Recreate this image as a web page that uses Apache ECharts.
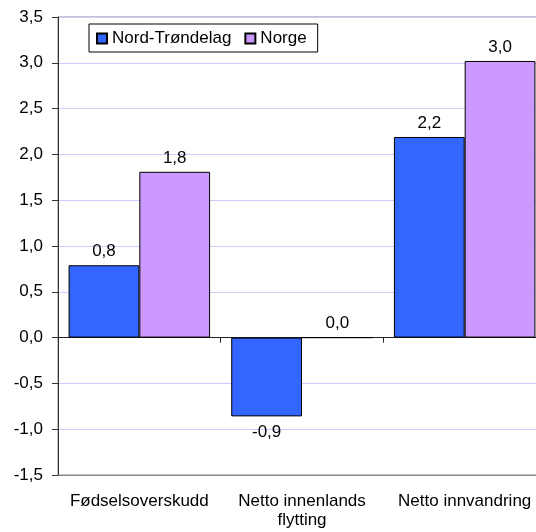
<!DOCTYPE html>
<html>
<head>
<meta charset="utf-8">
<script src="https://cdn.jsdelivr.net/npm/echarts@6/dist/echarts.min.js"></script>
<style>html,body{margin:0;padding:0;background:#fff;overflow:hidden}#c{width:556px;height:532px}</style>
</head>
<body>
<div id="c"></div>
<script>
const categories = ['Fødselsoverskudd', 'Netto innenlands\nflytting', 'Netto innvandring'];
const seriesNames = ['Nord-Trøndelag', 'Norge'];
const nordTrondelag = [0.79, -0.86, 2.19];
const norge = [1.81, 0.0, 3.02];
const yTicks = { min: -1.5, max: 3.5, interval: 0.5 };

const fmt = v => (Math.abs(v) < 0.05 ? 0 : v).toFixed(1).replace('.', ',');
const FONT = 'Liberation Sans, Arial, sans-serif';
const FS = 17;

function mkData(arr) {
  return arr.map(v => ({
    value: v,
    label: { position: v < 0 ? 'bottom' : 'top', distance: v < 0 ? 7 : 5 }
  }));
}

const chart = echarts.init(document.getElementById('c'), null, { renderer: 'canvas' });
chart.setOption({
  animation: false,
  textStyle: { fontFamily: FONT },
  grid: { left: 58, top: 17, width: 488, height: 458, outerBoundsMode: 'none', show: true, borderColor: '#888', borderWidth: 1, backgroundColor: 'transparent' },
  legend: {
    left: 89, top: 24,
    data: seriesNames,
    backgroundColor: '#fff',
    borderColor: '#000', borderWidth: 1,
    padding: [6, 11, 5, 7],
    itemWidth: 10, itemHeight: 10, itemGap: 13,
    icon: 'rect',
    textStyle: { fontFamily: FONT, fontSize: FS, color: '#000' }
  },
  xAxis: [
    {
      type: 'category', data: categories, position: 'bottom',
      axisLine: { onZero: false, lineStyle: { color: '#888', width: 1 } },
      axisTick: { show: false },
      axisLabel: { fontFamily: FONT, fontSize: FS, color: '#000', margin: 17, lineHeight: 19, interval: 0 },
      splitLine: { show: false }
    },
    {
      type: 'category', data: categories, position: 'bottom',
      axisLine: { onZero: true, lineStyle: { color: '#222', width: 1 } },
      axisTick: { show: true, length: 5, inside: false, lineStyle: { color: '#222' } },
      axisLabel: { show: false },
      splitLine: { show: false }
    }
  ],
  yAxis: {
    type: 'value', min: yTicks.min, max: yTicks.max, interval: yTicks.interval,
    axisLine: { show: true, lineStyle: { color: '#333', width: 1 } },
    axisTick: { show: true, length: 6, lineStyle: { color: '#333' } },
    axisLabel: { fontFamily: FONT, fontSize: FS, color: '#000', margin: 15, formatter: v => fmt(v) },
    splitLine: { show: true, lineStyle: { color: '#ccccff', width: 1 } }
  },
  series: [
    {
      name: seriesNames[0], type: 'bar', xAxisIndex: 0, data: mkData(nordTrondelag),
      barGap: '0%', barCategoryGap: '13%',
      itemStyle: { color: '#3366ff', borderColor: '#000', borderWidth: 1 },
      label: { show: true, fontFamily: FONT, fontSize: FS, color: '#000', formatter: p => fmt(p.value) }
    },
    {
      name: seriesNames[1], type: 'bar', xAxisIndex: 0, data: mkData(norge),
      barGap: '0%', barCategoryGap: '13%',
      itemStyle: { color: '#cc99ff', borderColor: '#000', borderWidth: 1 },
      label: { show: true, fontFamily: FONT, fontSize: FS, color: '#000', formatter: p => fmt(p.value) }
    }
  ]
});
</script>
</body>
</html>
